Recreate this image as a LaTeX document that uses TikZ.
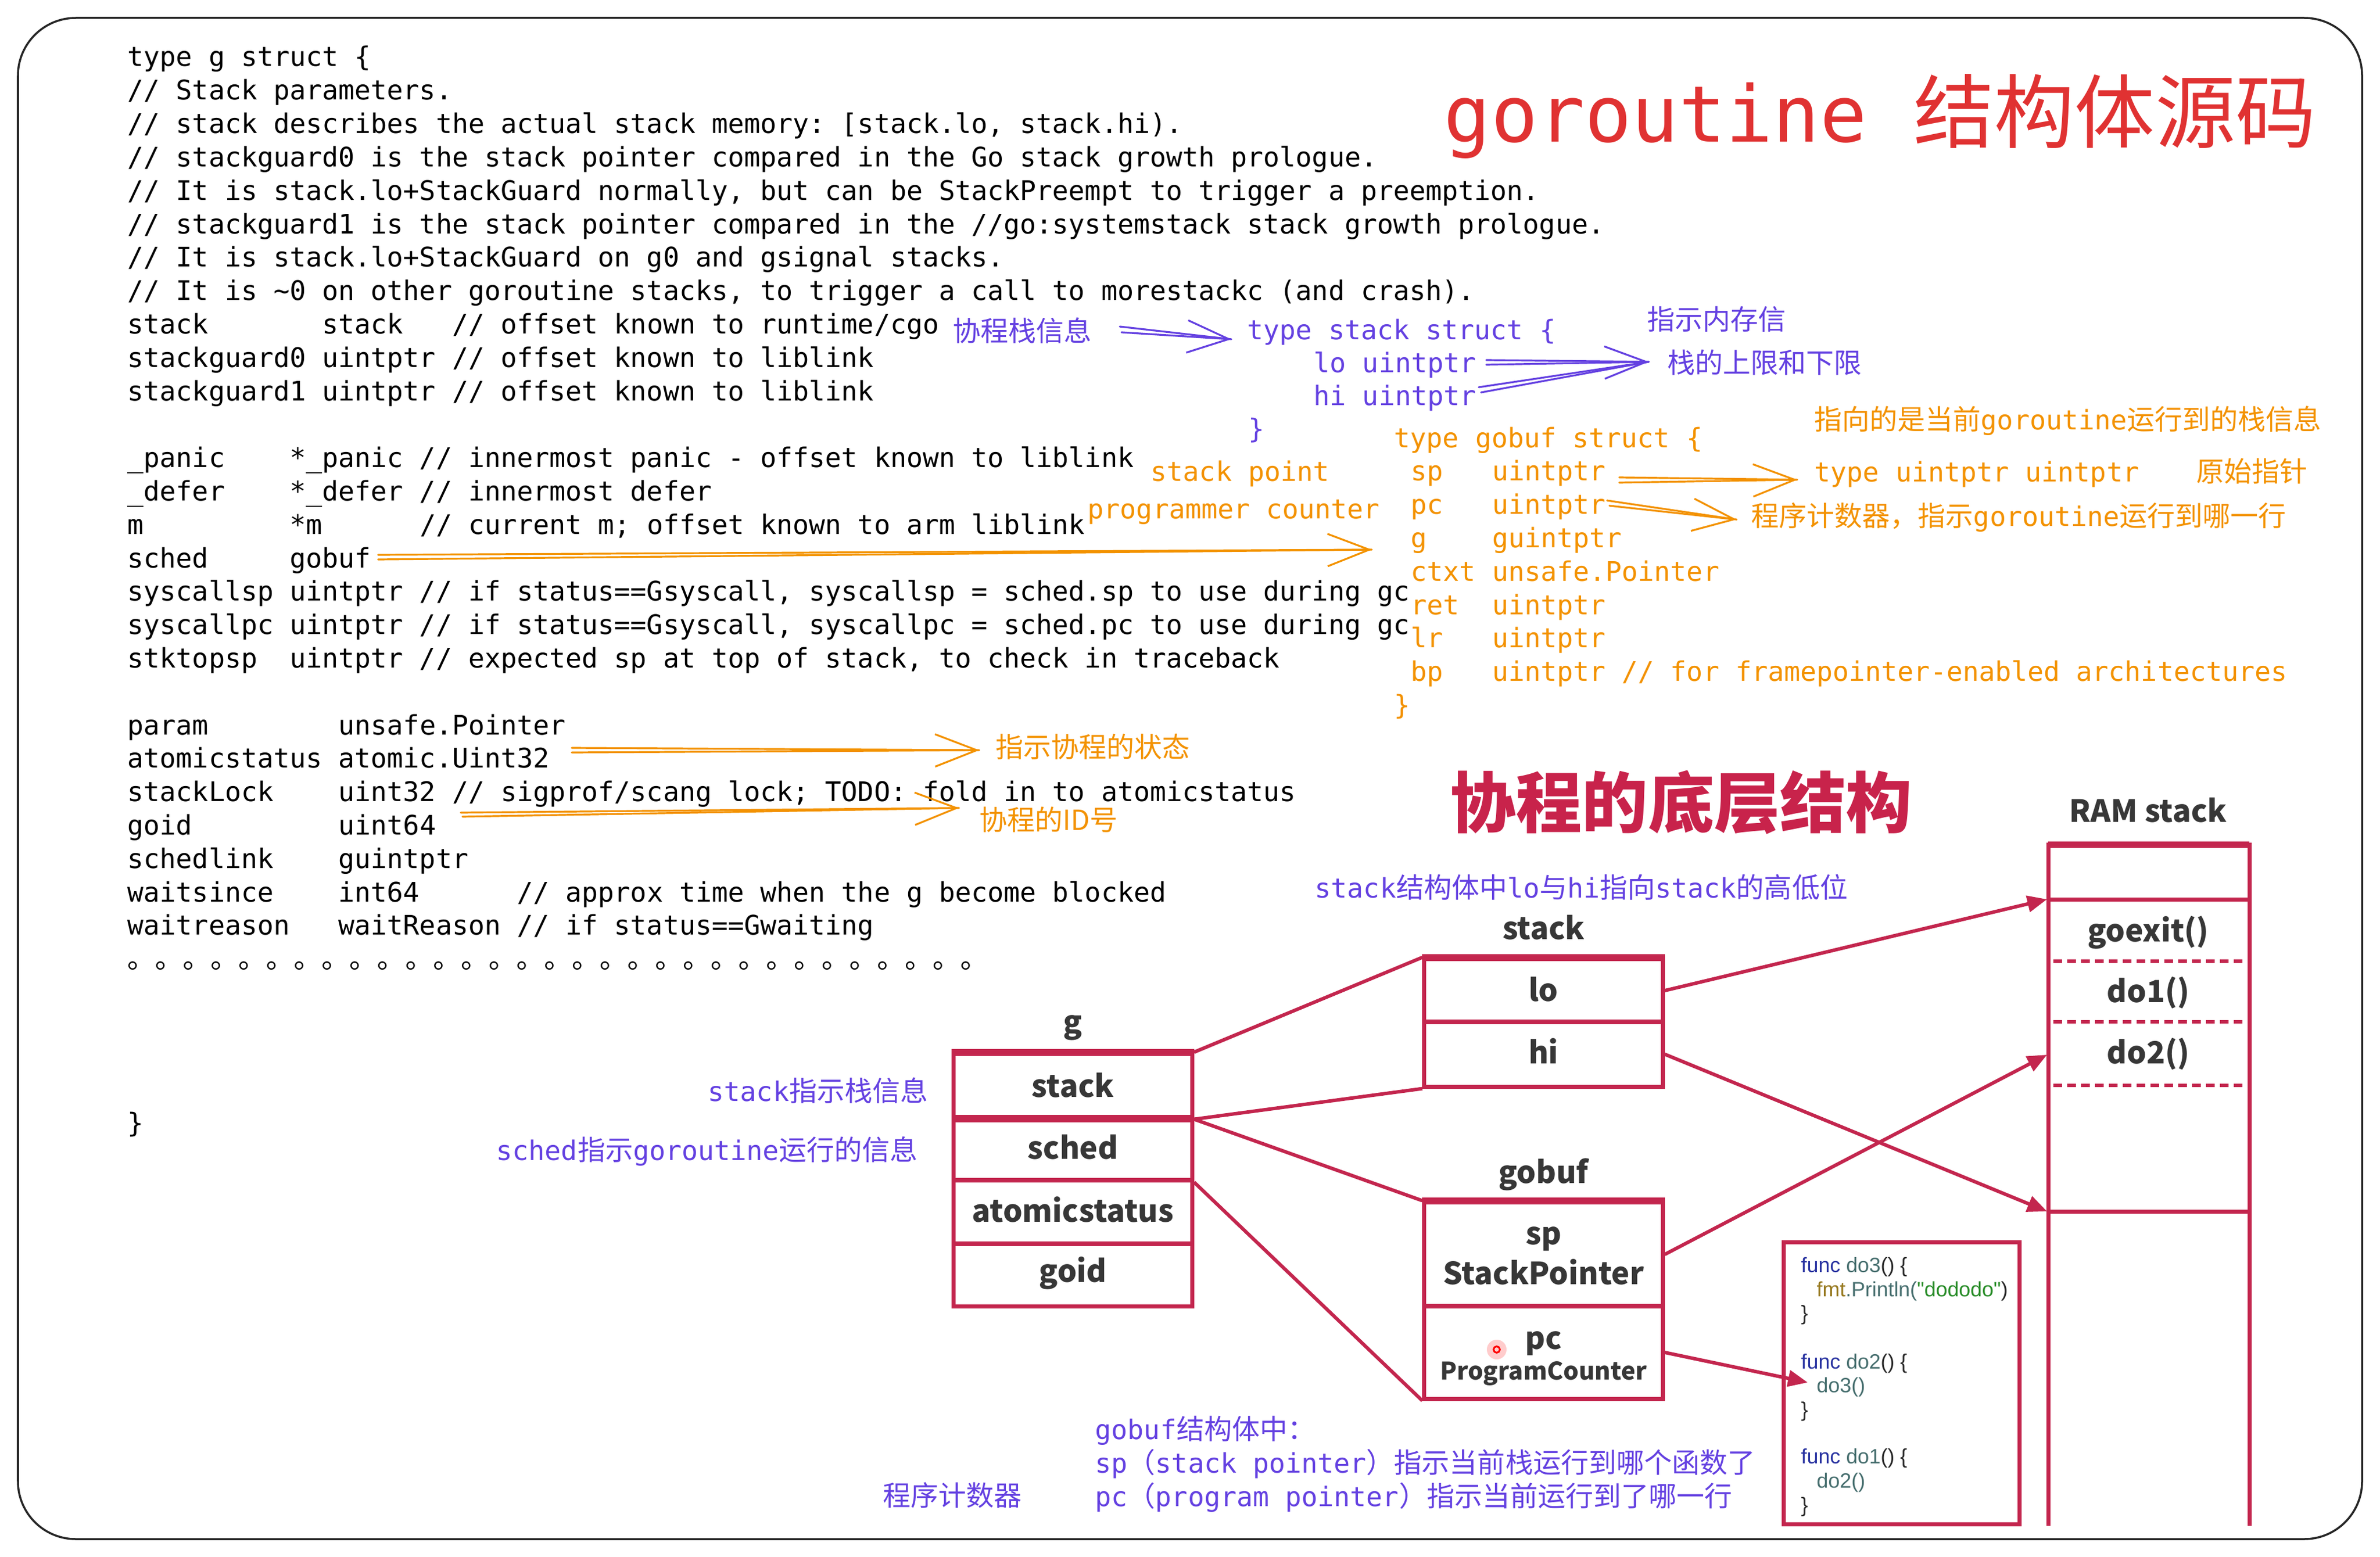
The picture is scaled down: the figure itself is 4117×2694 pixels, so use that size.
\documentclass[tikz,border=0pt]{standalone}
\usepackage{fontspec}
\usetikzlibrary{arrows.meta}
\setmainfont{DejaVu Sans}
\newfontfamily\mono{DejaVu Sans Mono}
\newfontfamily\cjk{Noto Sans CJK SC}[Scale=1.03]
\newfontfamily\arialf{Liberation Sans}
\newcommand\C[1]{{\cjk #1}}
\newcommand\codefont{\mono\fontsize{13.26}{16}\selectfont\frenchspacing}
\definecolor{vio}{RGB}{100,65,225}
\definecolor{org}{RGB}{243,146,0}
\definecolor{tred}{RGB}{224,50,50}
\definecolor{crim}{RGB}{195,38,78}
\definecolor{ttl}{RGB}{200,35,75}
\definecolor{lab}{RGB}{55,55,55}
\definecolor{fblue}{RGB}{40,50,160}
\definecolor{fteal}{RGB}{70,110,110}
\definecolor{folive}{RGB}{150,120,30}
\definecolor{fgreen}{RGB}{40,140,40}
\definecolor{fdark}{RGB}{40,40,40}
\begin{document}
\begin{tikzpicture}[x=0.01cm,y=-0.01cm,
  code/.style={anchor=base west, inner sep=0pt, font=\codefont, text=black},
  ann/.style={code, text=vio},
  oann/.style={code, text=org},
  hand/.style={line width=0.032cm, line cap=round},
  barb/.style={-{Straight Barb[length=0.72cm,width=0.56cm,line width=0.032cm]}},
  row/.style={draw=crim, line width=0.07cm, minimum width=4.12cm, inner sep=0pt},
  lbl/.style={anchor=base, inner sep=0pt, text=lab, font=\cjk\bfseries\fontsize{14.6}{17}\selectfont},
  conn/.style={draw=crim, line width=0.06cm},
  crimtip/.style={-{Triangle[length=0.34cm,width=0.28cm]}},
  fn/.style={anchor=base west, inner sep=0pt, text=fdark, font=\arialf\fontsize{10.2}{12}\selectfont},
]
\useasboundingbox (0,0) rectangle (4117,2694);
\draw[line width=0.035cm, black!85, rounded corners=1cm] (31,31) rectangle (4086,2663);

% ---------- g struct source ----------
\node[code] (c0) at (220,115) {type g struct \{};
\node[code] (c1) at (220,172.8) {// Stack parameters.};
\node[code] (c2) at (220,230.6) {// stack describes the actual stack memory: [stack.lo, stack.hi).};
\node[code] (c3) at (220,288.4) {// stackguard0 is the stack pointer compared in the Go stack growth prologue.};
\node[code] (c4) at (220,346.2) {// It is stack.lo+StackGuard normally, but can be StackPreempt to trigger a preemption.};
\node[code] (c5) at (220,404) {// stackguard1 is the stack pointer compared in the //go:systemstack stack growth prologue.};
\node[code] (c6) at (220,461.8) {// It is stack.lo+StackGuard on g0 and gsignal stacks.};
\node[code] (c7) at (220,519.6) {// It is \textasciitilde0 on other goroutine stacks, to trigger a call to morestackc (and crash).};
\node[code] (c8) at (220,577.4) {stack~~~~~~~stack~~~// offset known to runtime/cgo};
\node[code] (c9) at (220,635.2) {stackguard0 uintptr // offset known to liblink};
\node[code] (c10) at (220,693) {stackguard1 uintptr // offset known to liblink};
\node[code] (c12) at (220,808.6) {\_panic~~~~*\_panic // innermost panic - offset known to liblink};
\node[code] (c13) at (220,866.4) {\_defer~~~~*\_defer // innermost defer};
\node[code] (c14) at (220,924.2) {m~~~~~~~~~*m~~~~~~// current m; offset known to arm liblink};
\node[code] (c15) at (220,982) {sched~~~~~gobuf};
\node[code] (c16) at (220,1039.8) {syscallsp uintptr // if status==Gsyscall, syscallsp = sched.sp to use during gc};
\node[code] (c17) at (220,1097.6) {syscallpc uintptr // if status==Gsyscall, syscallpc = sched.pc to use during gc};
\node[code] (c18) at (220,1155.4) {stktopsp~~uintptr // expected sp at top of stack, to check in traceback};
\node[code] (c20) at (220,1271) {param~~~~~~~~unsafe.Pointer};
\node[code] (c21) at (220,1328.8) {atomicstatus atomic.Uint32};
\node[code] (c22) at (220,1386.6) {stackLock~~~~uint32 // sigprof/scang lock; TODO: fold in to atomicstatus};
\node[code] (c23) at (220,1444.4) {goid~~~~~~~~~uint64};
\node[code] (c24) at (220,1502.2) {schedlink~~~~guintptr};
\node[code] (c25) at (220,1560) {waitsince~~~~int64~~~~~~// approx time when the g become blocked};
\node[code] (c26) at (220,1617.8) {waitreason~~~waitReason // if status==Gwaiting};
\node[code] (c27) at (220,1675.6) {\C{。。。。。。。。。。。。。。。。。。。。。。。。。。。。。。。}};
\node[code] (c28) at (220,1959) {\}};

% ---------- titles ----------
\node[anchor=base west, inner sep=0pt, text=tred, font=\mono\fontsize{38.4}{42}\selectfont] (title) at (2497,246) {goroutine \C{结构体源码}};
\node[anchor=base west, inner sep=0pt, text=ttl, font=\cjk\bfseries\fontsize{31.5}{34}\selectfont] (title2) at (2508,1431) {协程的底层结构};

% ---------- stack struct (violet) ----------
\node[ann] (a0) at (1648,590) {\C{协程栈信息}};
\node[ann] (s0) at (2157,587) {type stack struct \{};
\node[ann] (s1) at (2272,644) {lo uintptr};
\node[ann] (s2) at (2272,701) {hi uintptr};
\node[ann] (s3) at (2159,758) {\}};
\node[ann] (a1) at (2849,570) {\C{指示内存信}};
\node[ann] (a2) at (2884,645) {\C{栈的上限和下限}};

% ---------- gobuf struct (orange) ----------
\node[oann] (o0) at (3138,743) {\C{指向的是当前}goroutine\C{运行到的栈信息}};
\node[oann] (b0) at (2411,774) {type gobuf struct \{};
\node[oann] (b1) at (2440,831.8) {sp~~~uintptr};
\node[oann] (b2) at (2440,889.6) {pc~~~uintptr};
\node[oann] (b3) at (2440,947.4) {g~~~~guintptr};
\node[oann] (b4) at (2440,1005.2) {ctxt unsafe.Pointer};
\node[oann] (b5) at (2440,1063) {ret~~uintptr};
\node[oann] (b6) at (2440,1120.8) {lr~~~uintptr};
\node[oann] (b7) at (2440,1178.6) {bp~~~uintptr // for framepointer-enabled architectures};
\node[oann] (b8) at (2411,1236.4) {\}};
\node[oann] (o1) at (1990,832) {stack point};
\node[oann] (o2) at (1881,897) {programmer counter};
\node[oann] (o3) at (3138,833) {type uintptr uintptr};
\node[oann] (o4) at (3799,833) {\C{原始指针}};
\node[oann] (o5) at (3029,910) {\C{程序计数器，指示}goroutine\C{运行到哪一行}};
\node[oann] (o6) at (1722,1310) {\C{指示协程的状态}};
\node[oann] (o7) at (1694,1436) {\C{协程的ID号}};

% ---------- hand drawn arrows ----------
% violet
\coordinate (v1s) at (1937,565); \coordinate (v1u) at (1940,575); \coordinate (v1t) at (2130,587);
\draw[vio, hand] (v1s) -- (v1t); \draw[vio, hand, barb] (v1u) -- (v1t);
\coordinate (v2s) at (2571,623); \coordinate (v2u) at (2571,631); \coordinate (v2t) at (2852,626);
\draw[vio, hand] (v2s) -- (v2t); \draw[vio, hand, barb] (v2u) -- (v2t);
\coordinate (v3s) at (2558,670); \coordinate (v3u) at (2562,679);
\draw[vio, hand] (v3s) -- (v2t); \draw[vio, hand] (v3u) -- (v2t);
% orange
\coordinate (r1s) at (654,960); \coordinate (r1u) at (654,968); \coordinate (r1t) at (2373,951);
\draw[org, hand] (r1s) -- (r1t); \draw[org, hand, barb] (r1u) -- (r1t);
\coordinate (r2s) at (2801,826); \coordinate (r2u) at (2801,835); \coordinate (r2t) at (3109,830);
\draw[org, hand] (r2s) -- (r2t); \draw[org, hand, barb] (r2u) -- (r2t);
\coordinate (r3s) at (2780,866); \coordinate (r3u) at (2784,875); \coordinate (r3t) at (3004,899);
\draw[org, hand] (r3s) -- (r3t); \draw[org, hand, barb] (r3u) -- (r3t);
\coordinate (r4s) at (989,1294); \coordinate (r4u) at (989,1302); \coordinate (r4t) at (1694,1298);
\draw[org, hand] (r4s) -- (r4t); \draw[org, hand, barb] (r4u) -- (r4t);
\coordinate (r5s) at (797,1406); \coordinate (r5u) at (800,1413); \coordinate (r5t) at (1659,1398);
\draw[org, hand] (r5s) -- (r5t); \draw[org, hand, barb] (r5u) -- (r5t);

% ---------- violet notes near diagram ----------
\node[ann] (n1) at (2274,1553) {stack\C{结构体中}lo\C{与}hi\C{指向}stack\C{的高低位}};
\node[ann] (n2) at (1224,1905) {stack\C{指示栈信息}};
\node[ann] (n3) at (858,2007) {sched\C{指示}goroutine\C{运行的信息}};
\node[ann] (n4) at (1527,2605) {\C{程序计数器}};
\node[ann] (n5) at (1894,2490) {gobuf\C{结构体中：}};
\node[ann] (n6) at (1894,2548) {sp\C{（}stack pointer\C{）指示当前栈运行到哪个函数了}};
\node[ann] (n7) at (1894,2606) {pc\C{（}program pointer\C{）指示当前运行到了哪一行}};

% ---------- diagram ----------
\node[row, minimum height=1.09cm] (gstack) at (1856,1878.5) {};
\node[row, minimum height=1.09cm] (gsched) at (1856,1987.5) {};
\node[row, minimum height=1.10cm] (gatom) at (1856,2097) {};
\node[row, minimum height=1.08cm] (ggoid) at (1856,2206) {};
\node[row, minimum height=1.08cm] (lo) at (2670,1714) {};
\node[row, minimum height=1.12cm] (hi) at (2670,1824) {};
\node[row, minimum height=1.79cm] (sp) at (2670,2170.5) {};
\node[row, minimum height=1.60cm] (pc) at (2670,2340) {};
\draw[crim, line width=0.11cm] (gstack.north west) -- (gstack.north east);
\draw[crim, line width=0.11cm] (gstack.south west) -- (gstack.south east);
\draw[crim, line width=0.11cm] (lo.north west) -- (lo.north east);
\draw[crim, line width=0.11cm] (sp.north west) -- (sp.north east);

% RAM stack
\coordinate (ramtl) at (3543,1461); \coordinate (ramtr) at (3891,1461);
\coordinate (rambl) at (3543,2640); \coordinate (rambr) at (3891,2640);
\draw[crim, line width=0.07cm] (rambl) -- (ramtl) -- (ramtr) -- (rambr);
\draw[crim, line width=0.11cm] (ramtl) -- (ramtr);
\coordinate (h1l) at (3543,1556); \coordinate (h1r) at (3891,1556);
\coordinate (h2l) at (3543,2096); \coordinate (h2r) at (3891,2096);
\draw[crim, line width=0.07cm] (h1l) -- (h1r);
\draw[crim, line width=0.07cm] (h2l) -- (h2r);
\coordinate (d1l) at (3552,1663); \coordinate (d1r) at (3885,1663);
\coordinate (d2l) at (3552,1768); \coordinate (d2r) at (3885,1768);
\coordinate (d3l) at (3552,1878); \coordinate (d3r) at (3885,1878);
\draw[crim, line width=0.055cm, dash pattern=on 0.15cm off 0.09cm] (d1l) -- (d1r);
\draw[crim, line width=0.055cm, dash pattern=on 0.15cm off 0.09cm] (d2l) -- (d2r);
\draw[crim, line width=0.055cm, dash pattern=on 0.15cm off 0.09cm] (d3l) -- (d3r);

% code box
\node[draw=crim, line width=0.07cm, minimum width=4.07cm, minimum height=4.87cm, inner sep=0pt] (codebox) at (3289.5,2393.5) {};

% connectors
\draw[conn] (gstack.north east) -- (lo.north west);
\draw[conn] (gstack.south east) -- (hi.south west);
\draw[conn] (gstack.south east) -- (sp.north west);
\draw[conn] (gsched.south east) -- (pc.south west);
\coordinate (ramA) at (3541,1556);
\coordinate (ramB) at (3541,2096);
\coordinate (ramC) at (3541,1825);
\coordinate (codeT) at (3127,2392);
\draw[conn, crimtip] (lo.east) -- (ramA);
\draw[conn, crimtip] (hi.east) -- (ramB);
\draw[conn, crimtip] (sp.east) -- (ramC);
\draw[conn, crimtip] (pc.east) -- (codeT);

% labels
\node[lbl] (lg) at (1856,1787) {g};
\node[lbl] (lgs) at (1856,1898) {stack};
\node[lbl] (lgsc) at (1856,2005) {sched};
\node[lbl] (lga) at (1856,2114) {atomicstatus};
\node[lbl] (lgg) at (1856,2218) {goid};
\node[lbl] (lst) at (2670,1625) {stack};
\node[lbl] (llo) at (2670,1732) {lo};
\node[lbl] (lhi) at (2670,1840) {hi};
\node[lbl] (lgb) at (2670,2047) {gobuf};
\node[lbl] (lsp) at (2670,2153) {sp};
\node[lbl] (lspn) at (2670,2222) {StackPointer};
\node[lbl] (lpc) at (2670,2334) {pc};
\node[lbl, font=\cjk\bfseries\fontsize{11.6}{14}\selectfont] (lpcn) at (2670,2387) {ProgramCounter};
\node[lbl] (lram) at (3716,1422) {RAM stack};
\node[lbl] (lgo) at (3716,1629) {goexit()};
\node[lbl] (ld1) at (3716,1734) {do1()};
\node[lbl] (ld2) at (3716,1840) {do2()};

% cursor dot
\coordinate (dot) at (2589,2335);
\fill[red!20] (dot) circle (0.17cm);
\draw[red, line width=0.03cm] (dot) circle (0.055cm);

% code in box
\node[fn] (f1) at (3115,2201) {\textcolor{fblue}{func} \textcolor{fteal}{do3}() \{};
\node[fn] (f2) at (3142,2243) {\textcolor{folive}{fmt}\textcolor{fteal}{.Println(}\textcolor{fgreen}{"dododo"})};
\node[fn] (f3) at (3115,2284) {\}};
\node[fn] (f4) at (3115,2368) {\textcolor{fblue}{func} \textcolor{fteal}{do2}() \{};
\node[fn] (f5) at (3142,2409) {\textcolor{fteal}{do3()}};
\node[fn] (f6) at (3115,2451) {\}};
\node[fn] (f7) at (3115,2532) {\textcolor{fblue}{func} \textcolor{fteal}{do1}() \{};
\node[fn] (f8) at (3142,2574) {\textcolor{fteal}{do2()}};
\node[fn] (f9) at (3115,2616) {\}};
\end{tikzpicture}
\end{document}
